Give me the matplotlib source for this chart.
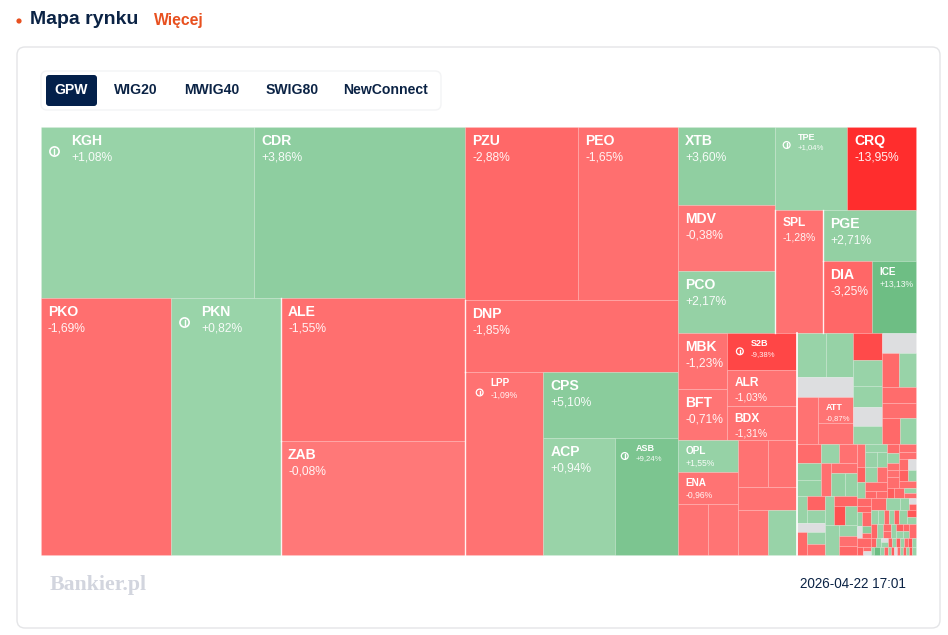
import matplotlib
matplotlib.use("Agg")
import matplotlib.pyplot as plt
from matplotlib.colors import LinearSegmentedColormap, Normalize
from matplotlib.patches import Circle, FancyBboxPatch, Rectangle
import math

plt.rcParams["font.family"] = ["Liberation Sans", "DejaVu Sans"]

NAN = float("nan")

tabs = ["GPW", "WIG20", "MWIG40", "SWIG80", "NewConnect"]
title = "Mapa rynku"
more_link = "Więcej"
logo_text = "Bankier.pl"
timestamp = "2026-04-22 17:01"

# tiles in the order they are read from the tree below, "" = no label on the map
tile_names = [
    "KGH", "CDR", "PKO", "PKN", "ALE", "ZAB",
    "PZU", "PEO", "DNP", "LPP", "CPS", "ACP", "ASB",
    "XTB", "MDV", "PCO", "TPE", "CRQ", "SPL", "PGE", "DIA", "ICE",
    "MBK", "BFT", "S2B", "ALR", "BDX", "OPL", "ENA",
] + [""] * 7 + [
    "", "", "", "", "ATT", "",
]

tile_caps = [
    36423, 36081, 33410, 28270, 26312, 20976,
    19549, 17300, 15336, 14274, 8910, 8424, 7371,
    7566, 6402, 6014, 5976, 5727, 5904, 4743, 3528, 3168,
    2744, 2499, 2590, 2520, 2380, 1920, 1920,
    1530, 1530, 1410, 1363, 1357, 1350, 1305,
    1276, 1188, 1120, 966, 910, 700,
]

tile_changes = [
    1.08, 3.86, -1.69, 0.82, -1.55, -0.08,
    -2.88, -1.65, -1.85, -1.09, 5.10, 0.94, 9.24,
    3.60, -0.38, 2.17, 1.04, -13.95, -1.28, 2.71, -3.25, 13.13,
    -1.23, -0.71, -9.38, -1.03, -1.31, 1.55, -0.96,
    -0.9, -0.7, -1.2, -1.1, -1.3, -0.8, 1.0,
    1.1, 1.6, NAN, -1.0, -0.87, -1.2,
]

# unlabelled small companies, right hand column
small_caps = [
    783, 754, 609, 551, 493,
    646, 578, 578, 544, 510, 450, 400,
    456, 342, 342, 408, 384, 330, 260, 322, 276,
    270, 252, 234, 252, 230, 216, 198,
    261, 230, 209, 228, 420, 198, 180, 162,
    184, 120, 176, 180, 150, 180, 150, 128, 198, 77, 77,
    108, 120, 84, 84, 132, 136, 119, 99, 88, 99, 88, 119, 70, 100, 60, 60,
    112, 84, 70, 126, 60, 63, 45, 126, 48, 32, 32,
    180, 168, 108, 42, 42,
    98, 84, 70, 70, 70, 112, 63, 63,
    84, 84, 56, 56, 70, 49, 49, 42, 42, 98,
    45, 45, 28, 35, 36, 36, 36, 36, 36, 36, 36,
    24, 48, 32, 32, 24, 24, 24, 24, 24, 24, 24, 24, 32,
]

small_changes = [
    -8.5, 1.2, 1.4, NAN, 1.3,
    NAN, -2.6, 1.2, -2.2, -1.9, -2.8, 1.4,
    -2.5, 1.1, -1.4, 2.8, 2.0, -1.6, -1.5, 2.6, 1.8,
    1.3, -4.0, 1.2, NAN, -2.8, 1.0, -1.8,
    1.1, -3.4, -7.5, 2.0, 1.2, 1.1, -1.6, -3.5,
    -1.5, -4.5, 1.2, 1.5, 1.9, 1.4, -1.6, 2.0, -2.4, -2.9, -2.2,
    -2.4, 1.3, -1.8, -1.5, -2.0, -1.9, -1.6, -2.2, NAN, -4.2, 1.8, -2.0,
    -5.0, -3.0, 1.2, -2.2,
    -2.9, -3.4, 2.1, -2.8, NAN, 5.0, -3.0, -3.0, -4.5, -2.2, NAN,
    -3.0, 1.2, 1.3, NAN, -4.0,
    1.0, 1.4, -3.0, 1.3, -4.0, 1.6, -6.0, 1.2,
    -3.5, 1.1, -2.6, -2.0, 1.5, -4.5, 1.2, -3.0, 2.0, -2.5,
    -4.0, 1.1, NAN, 1.2, -3.5, 1.0, -5.0, 1.4, -2.0, -6.0, 1.2,
    1.0, 18.0, 1.5, -3.0, 1.1, -5.0, NAN, -2.5, 1.0, -4.0, 1.3, -6.0, 1.1,
]

# how the tiles nest: "h" = side by side, "v" = stacked, a number n = next n tiles
left_block = ["v", ["h", 2], ["h", 2, ["v", 2]]]
mid_block = ["v", ["h", 2], 1, ["h", 1, ["v", 1, ["h", 2]]]]
right_top = ["h", ["v", 3], ["v", ["h", 2], ["h", 1, ["v", 1, ["h", 2]]]]]
col_c = ["v", ["h", ["v", 2], ["v", 3]],
         ["h", ["v", 2, ["h", 2]], ["v", ["h", 2], 1, ["h", 2]]]]
d_top = ["h", ["v", ["h", 2], 1, ["h", 1, ["v", 2]]], ["v", 5],
         ["v", 1, ["h", 2], 1, 1, ["h", 2]]]
d_low_left = ["v", ["h", 3],
              ["h", ["v", 2], ["h", 1, ["v", 1, ["h", 2]]]],
              ["h", ["v", ["h", 1, ["v", 2]], 1, ["h", 1, ["v", 2]]],
               ["v", ["h", 1, ["v", 1, ["h", 2]]], ["h", 1, ["v", 3]]]]]
d_up = ["h",
        ["v", ["h", ["v", 2], ["v", 1, ["h", 2], ["h", 2]]],
         ["h", 1, ["v", 1, ["h", 2]]]],
        ["v", ["h", ["v", 5], ["v", 2, ["h", 2], ["h", 2], 1]],
         ["h", 2, ["v", 2]]]]
d_mosaic = ["h",
            ["v", 2, ["h", 2], ["h", 1, ["v", 2]], 1, ["h", 1, ["v", 2]]],
            ["v", ["h", 3, ["v", 2]],
             ["h", 6, ["v", 2]],
             ["h", 2, ["v", 2], 1, ["v", 2], ["v", 2], 1],
             ["h", 2, ["v", 2], 7],
             ["h", 13]]]
col_d = ["v", d_top, ["h", d_low_left, ["v", d_up, d_mosaic]]]
tree = ["h", left_block, mid_block, ["v", right_top, ["h", col_c, col_d]]]

info_names = ["KGH", "PKN", "LPP", "ASB", "S2B", "TPE"]
large_names = ["SPL", "ALR", "BDX"]
medium_names = ["OPL", "ENA", "ICE", "LPP"]
small_names = ["S2B", "TPE", "ATT", "ASB"]
# tiles with a clean white seam on their left side
seam_names = ["ALE", "ZAB", "LPP", "DNP", "SPL", "PGE", "DIA"]

NAVY = "#0b2345"
ORANGE = "#e8501f"
GREY_TILE = "#dddee0"

all_caps = tile_caps + small_caps
all_changes = tile_changes + small_changes
assert len(all_caps) == len(all_changes)

colormap = LinearSegmentedColormap.from_list("market", [
    (0.0, "#ff2d2d"), (0.5, "#ff7878"), (0.5, "#9cd5ab"), (1.0, "#6bbd82")])
norm = Normalize(-14, 14)


def px(size):
    return size * 0.72


def expand(node):
    # turn a number in the tree into that many single tiles
    if node == 1:
        return "leaf"
    if isinstance(node, int):
        return ["h", *["leaf"] * node]
    return [node[0], *[item for c in node[1:] for item in
                       (["leaf"] * c if isinstance(c, int) else [expand(c)])]]


def weight(node, counter):
    if node == "leaf":
        value = all_caps[counter[0]]
        counter[0] += 1
        return value
    return sum(weight(c, counter) for c in node[1:])


def layout(node, x, y, w, h, counter, out):
    if node == "leaf":
        out.append((x, y, w, h))
        counter[0] += 1
        return
    start = counter[0]
    sizes = [weight(c, counter) for c in node[1:]]
    counter[0] = start
    total = sum(sizes)
    for child, size in zip(node[1:], sizes):
        if node[0] == "h":
            part = w * size / total
            layout(child, x, y, part, h, counter, out)
            x += part
        else:
            part = h * size / total
            layout(child, x, y, w, part, counter, out)
            y += part


def tileColor(change):
    if math.isnan(change):
        return GREY_TILE
    return colormap(norm(change))


def drawLabel(ax, name, change, x, y):
    pct = f"{change:+.2f}%".replace(".", ",")
    if name in large_names:
        sizes, offsets = (12, 10.4), (12.5, 27)
    elif name in medium_names:
        sizes, offsets = (10, 8.6), (11, 23.5)
    elif name in small_names:
        sizes, offsets = (9, 7.8), (10.5, 21)
    else:
        sizes, offsets = (14, 12), (14, 30.5)
    pad = 7
    if name in info_names:
        pad = {"KGH": 30.5, "PKN": 30.5, "LPP": 25.5, "ASB": 20.5, "S2B": 23.5, "TPE": 22.5}[name]
        radius = 4.6 if sizes[0] == 14 else 3.4
        cx = x + pad - (17 if sizes[0] == 14 else 11)
        cy = y + offsets[1] - (6 if sizes[0] == 14 else 3)
        ax.add_patch(Circle((cx, cy), radius, fc="none", ec="white", lw=1.2 if sizes[0] == 14 else 0.9, zorder=4))
        ax.plot([cx, cx], [cy - radius * 0.45, cy + radius * 0.45], color="white", lw=1.0, zorder=4)
    ax.text(x + pad, y + offsets[0], name, color="white", fontweight="bold",
            fontsize=px(sizes[0]), va="center", ha="left", zorder=5)
    ax.text(x + pad, y + offsets[1], pct, color="white", alpha=0.92,
            fontsize=px(sizes[1]), va="center", ha="left", zorder=5)


def box(ax, x, y, w, h, radius, fc, ec, lw=1.0):
    ax.add_patch(FancyBboxPatch((x, y), w, h, boxstyle=f"round,pad=0,rounding_size={radius}",
                                fc=fc, ec=ec, lw=lw))


def main():
    fig = plt.figure(figsize=(9.48, 6.35), dpi=100)
    ax = fig.add_axes([0, 0, 1, 1])
    ax.set_xlim(0, 948)
    ax.set_ylim(635, 0)
    ax.axis("off")

    ax.add_patch(Circle((19, 21), 2.6, fc=ORANGE, ec="none"))
    ax.text(30, 20, title, color=NAVY, fontweight="bold", fontsize=px(19.5), va="center")
    ax.text(154, 20, more_link, color=ORANGE, fontweight="bold", fontsize=px(15.8), va="center")

    box(ax, 17, 47, 923, 581, 8, "white", "#e4e5e7", 1.0)
    box(ax, 41, 71, 400, 39, 6, "white", "#f3f4f5", 1.0)
    box(ax, 46, 75, 51, 31, 3, "#03204a", "none")
    for label, cx in zip(tabs, [71.5, 136, 212, 292, 386]):
        ax.text(cx, 90.5, label, color="white" if label == "GPW" else NAVY, fontweight="bold",
                fontsize=px(14), ha="center", va="center")

    rects = []
    layout(expand(tree), 41, 127, 875, 428, [0], rects)
    names = tile_names + [""] * (len(rects) - len(tile_names))
    for (x, y, w, h), name, change in zip(rects, names, all_changes):
        ax.add_patch(Rectangle((x, y), w, h, fc=tileColor(change), ec=(1, 1, 1, 0.14), lw=0.6, zorder=2))
        if name in seam_names:
            ax.plot([x, x], [y, y + h], color="white", lw=1.0, alpha=0.85, zorder=3)
        if name:
            drawLabel(ax, name, change, x, y)

    # the small companies column is set off from the rest by a white line
    first_small = rects[tile_names.index("ATT") - 4]
    ax.plot([first_small[0]] * 2, [first_small[1], 555], color="white", lw=1.2, zorder=3)

    ax.text(50, 585, logo_text, family="Liberation Serif", fontweight="bold", color="#d2d5de",
            fontsize=px(21.8), va="center", ha="left")
    ax.text(906, 584.5, timestamp, color=NAVY, fontsize=px(13.5), va="center", ha="right")

    fig.savefig("out.png", dpi=100)


if __name__ == "__main__":
    main()
